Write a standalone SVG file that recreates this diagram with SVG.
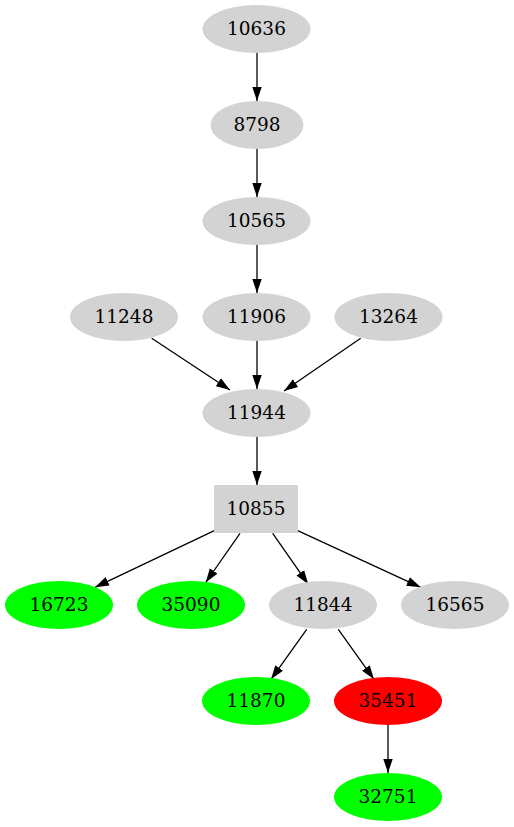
<svg xmlns="http://www.w3.org/2000/svg" width="514" height="827" viewBox="0 0 514 827">
<style>
text{font-family:"DejaVu Serif","Liberation Serif",serif;font-size:18.5px;text-anchor:middle;fill:#000}
.g{fill:#d3d3d3}
.gr{fill:#00ff00}
.r{fill:#ff0000}
#edges line{stroke:#000;stroke-width:1.3;marker-end:url(#ah)}
</style>
<defs>
<marker id="ah" markerUnits="userSpaceOnUse" markerWidth="14" markerHeight="10" refX="14" refY="5" orient="auto" viewBox="0 0 14 10">
<path d="M0,0.3 L14,5 L0,9.7 z" fill="#000"/>
</marker>
</defs>
<rect width="514" height="827" fill="#fff"/>
<g id="edges">
<line x1="257" y1="53" x2="257" y2="101"/>
<line x1="257" y1="149" x2="257" y2="197"/>
<line x1="257" y1="245" x2="257" y2="293"/>
<line x1="257" y1="341" x2="257" y2="389"/>
<line x1="151.7" y1="338.3" x2="230" y2="390"/>
<line x1="360.7" y1="338.3" x2="284" y2="391"/>
<line x1="257" y1="437" x2="257" y2="485"/>
<line x1="214.3" y1="530.7" x2="95" y2="587.3"/>
<line x1="240" y1="533.3" x2="205.7" y2="582.5"/>
<line x1="272.7" y1="533.3" x2="308.3" y2="584.3"/>
<line x1="297.7" y1="530.7" x2="420.7" y2="587.3"/>
<line x1="306.7" y1="629.3" x2="271" y2="679.3"/>
<line x1="338.3" y1="629.3" x2="374" y2="679.3"/>
<line x1="388" y1="725" x2="388" y2="773"/>
</g>
<g id="n10636"><ellipse class="g" cx="256.5" cy="29" rx="54" ry="24"/><text x="256.5" y="34.5">10636</text></g>
<g id="n8798"><ellipse class="g" cx="257" cy="125" rx="46.5" ry="24"/><text x="257" y="130.5">8798</text></g>
<g id="n10565"><ellipse class="g" cx="256.5" cy="221" rx="54" ry="24"/><text x="256.5" y="226.5">10565</text></g>
<g id="n11248"><ellipse class="g" cx="124" cy="317" rx="54" ry="24"/><text x="124" y="322.5">11248</text></g>
<g id="n11906"><ellipse class="g" cx="256.5" cy="317" rx="54" ry="24"/><text x="256.5" y="322.5">11906</text></g>
<g id="n13264"><ellipse class="g" cx="388.5" cy="317" rx="54" ry="24"/><text x="388.5" y="322.5">13264</text></g>
<g id="n11944"><ellipse class="g" cx="256.5" cy="413" rx="54" ry="24"/><text x="256.5" y="418.5">11944</text></g>
<g id="n10855"><rect class="g" x="214" y="485" width="84" height="48"/><text x="256" y="514.5">10855</text></g>
<g id="n16723"><ellipse class="gr" cx="59" cy="605" rx="54" ry="24"/><text x="59" y="610.5">16723</text></g>
<g id="n35090"><ellipse class="gr" cx="191" cy="605" rx="54" ry="24"/><text x="191" y="610.5">35090</text></g>
<g id="n11844"><ellipse class="g" cx="323" cy="605" rx="54" ry="24"/><text x="323" y="610.5">11844</text></g>
<g id="n16565"><ellipse class="g" cx="455" cy="605" rx="54" ry="24"/><text x="455" y="610.5">16565</text></g>
<g id="n11870"><ellipse class="gr" cx="256" cy="701" rx="54" ry="24"/><text x="256" y="706.5">11870</text></g>
<g id="n35451"><ellipse class="r" cx="388" cy="701" rx="54" ry="24"/><text x="388" y="706.5">35451</text></g>
<g id="n32751"><ellipse class="gr" cx="388" cy="797" rx="54" ry="24"/><text x="388" y="802.5">32751</text></g>
</svg>
